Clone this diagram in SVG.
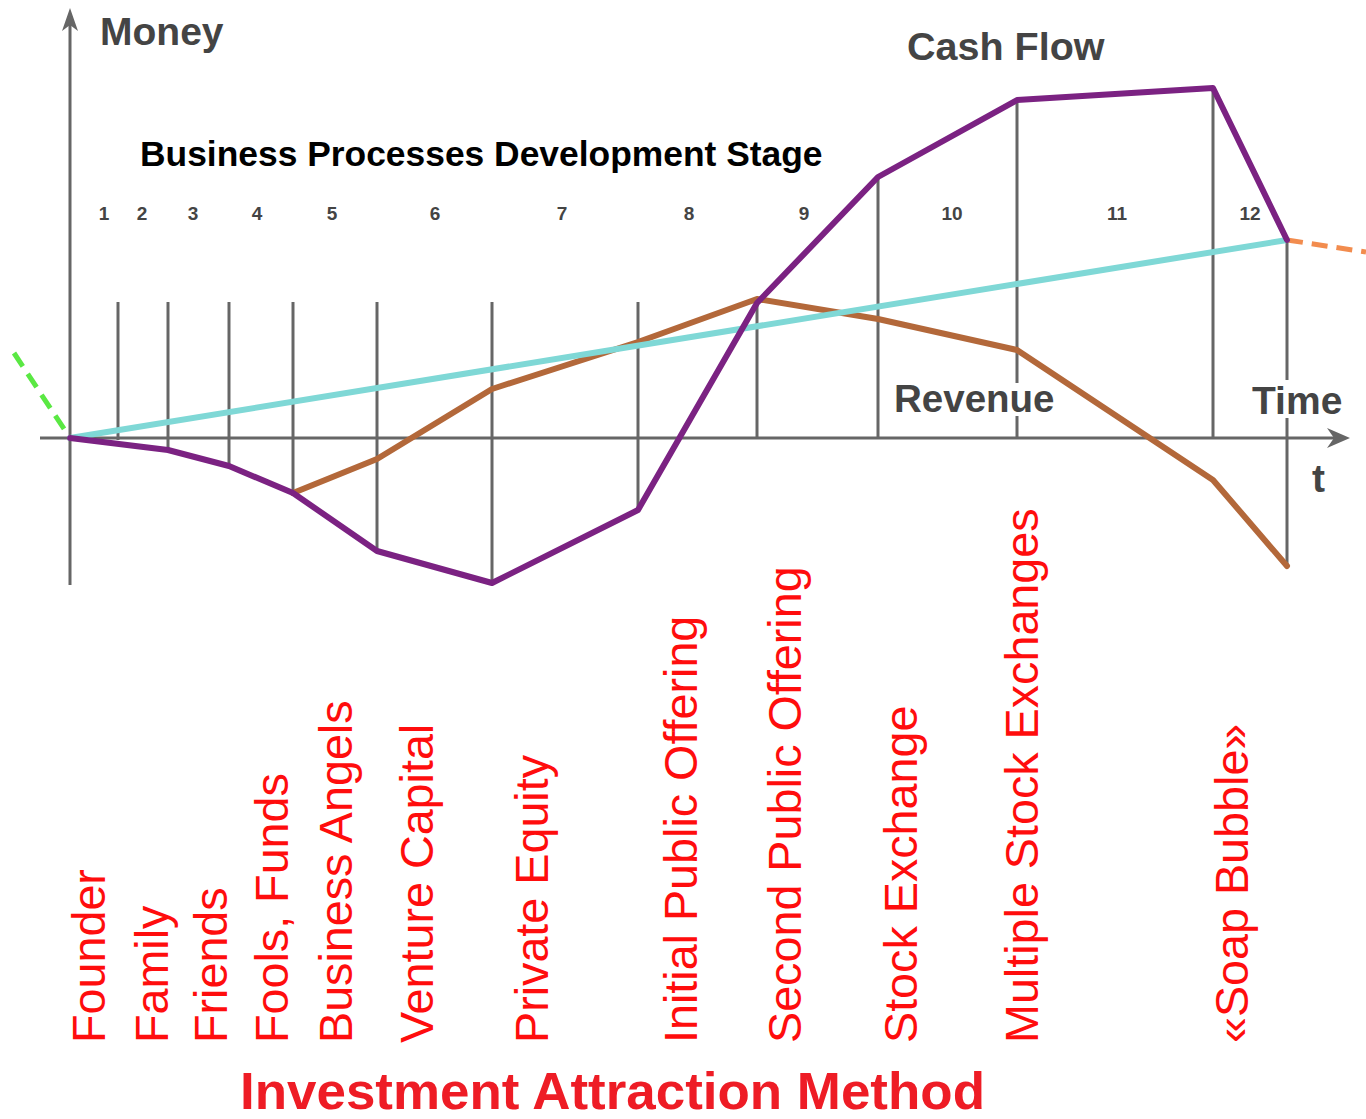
<svg xmlns="http://www.w3.org/2000/svg" width="1366" height="1119" viewBox="0 0 1366 1119">
<style>
.ax{stroke:#666;stroke-width:3;fill:none}
.grid{stroke:#666;stroke-width:3}
.cur{fill:none;stroke-width:6;stroke-linejoin:round;stroke-linecap:round}
.lbl{font-family:"Liberation Sans",Arial,sans-serif;font-weight:bold;fill:#444}
.num{font-family:"Liberation Sans",Arial,sans-serif;font-weight:bold;fill:#444;font-size:19px;text-anchor:middle}
.inv{font-family:"Liberation Sans",Arial,sans-serif;fill:#ff0d0d;font-size:46.7px}
</style>
<rect width="1366" height="1119" fill="#fff"/>
<g id="axes">
<line class="ax" x1="70" y1="20" x2="70" y2="585"/>
<path d="M70,8 L78,31 L70,25 L62,31 Z" fill="#666"/>
<line class="ax" x1="40" y1="438" x2="1338" y2="438"/>
<path d="M1350,438 L1327,428 L1334,438 L1327,448 Z" fill="#666"/>
</g>
<g id="stage-lines">
<line class="grid" x1="118" y1="302" x2="118" y2="440"/>
<line class="grid" x1="168" y1="302" x2="168" y2="450"/>
<line class="grid" x1="229" y1="302" x2="229" y2="466"/>
<line class="grid" x1="293" y1="302" x2="293" y2="493"/>
<line class="grid" x1="377" y1="302" x2="377" y2="551"/>
<line class="grid" x1="492" y1="302" x2="492" y2="583"/>
<line class="grid" x1="638" y1="302" x2="638" y2="510"/>
<line class="grid" x1="757" y1="300" x2="757" y2="438"/>
<line class="grid" x1="878" y1="178" x2="878" y2="438"/>
<line class="grid" x1="1017" y1="100" x2="1017" y2="438"/>
<line class="grid" x1="1213" y1="88" x2="1213" y2="438"/>
<line class="grid" x1="1287" y1="240" x2="1287" y2="566"/>
</g>
<g id="connectors">
<line x1="14" y1="353" x2="70" y2="438" stroke="#5ae843" stroke-width="5" stroke-dasharray="16,9"/>
<line x1="1287" y1="240" x2="1366" y2="252" stroke="#f28c4e" stroke-width="5" stroke-dasharray="16,9"/>
<polyline id="revenue-line" class="cur" stroke="#b3683a" stroke-width="5.5" points="293,493 377,459 492,389 638,342 757,299 878,319 1017,350 1213,480 1287,566"/>
<line id="trend-line" x1="70" y1="438" x2="1287" y2="240" stroke="#7fd8d6" stroke-width="6" stroke-linecap="round"/>
<polyline id="cashflow-line" class="cur" stroke="#7b2282" points="70,438 168,450 229,466 293,493 377,551 492,583 638,510 757,303 878,177 1017,100 1213,88 1287,240"/>
</g>
<g id="axis-labels">
<text class="lbl" x="100" y="45" font-size="39">Money</text>
<text class="lbl" x="907" y="60" font-size="39.5">Cash Flow</text>
<rect x="893" y="383" width="163" height="33" fill="#fff"/>
<text class="lbl" x="894" y="412" font-size="38.5">Revenue</text>
<rect x="1250" y="380" width="95" height="38" fill="#fff"/>
<text class="lbl" x="1252" y="414" font-size="39">Time</text>
<text class="lbl" x="1312" y="492" font-size="39">t</text>
<text x="140" y="166" font-family="Liberation Sans,Arial,sans-serif" font-weight="bold" font-size="35.4" fill="#000">Business Processes Development Stage</text>
</g>
<g id="stage-numbers">
<text class="num" x="104" y="220">1</text>
<text class="num" x="142" y="220">2</text>
<text class="num" x="193" y="220">3</text>
<text class="num" x="257" y="220">4</text>
<text class="num" x="332" y="220">5</text>
<text class="num" x="435" y="220">6</text>
<text class="num" x="562" y="220">7</text>
<text class="num" x="689" y="220">8</text>
<text class="num" x="804" y="220">9</text>
<text class="num" x="952" y="220">10</text>
<text class="num" x="1117" y="220">11</text>
<text class="num" x="1250" y="220">12</text>
</g>
<g id="investment-methods">
<text class="inv" transform="translate(105,1043) rotate(-90)">Founder</text>
<text class="inv" transform="translate(168,1043) rotate(-90)">Family</text>
<text class="inv" transform="translate(227,1043) rotate(-90)">Friends</text>
<text class="inv" transform="translate(288,1043) rotate(-90)">Fools, Funds</text>
<text class="inv" transform="translate(352,1043) rotate(-90)">Business Angels</text>
<text class="inv" transform="translate(433,1043) rotate(-90)">Venture Capital</text>
<text class="inv" transform="translate(548,1043) rotate(-90)">Private Equity</text>
<text class="inv" transform="translate(697,1043) rotate(-90)">Initial Public Offering</text>
<text class="inv" transform="translate(801,1043) rotate(-90)">Second Public Offering</text>
<text class="inv" transform="translate(917,1043) rotate(-90)">Stock Exchange</text>
<text class="inv" transform="translate(1038,1043) rotate(-90)">Multiple Stock Exchanges</text>
<text class="inv" transform="translate(1248,1043) rotate(-90)">«Soap Bubble»</text>
</g>
<text id="title-bottom" x="240" y="1109" font-family="Liberation Sans,Arial,sans-serif" font-weight="bold" font-size="52" fill="#ee1c25" textLength="745" lengthAdjust="spacingAndGlyphs">Investment Attraction Method</text>
</svg>
